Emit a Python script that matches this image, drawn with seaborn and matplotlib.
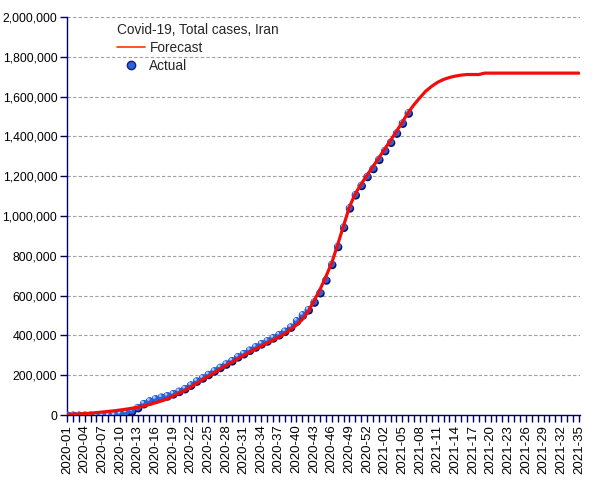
import matplotlib
matplotlib.use("Agg")
import matplotlib.pyplot as plt
import matplotlib.transforms as mtransforms
from matplotlib.lines import Line2D
from matplotlib.ticker import FuncFormatter
import pandas as pd
import seaborn as sns

# ISO weeks: 2020 has 53 weeks, chart runs to 2021-35
weeks = [f"2020-{w:02d}" for w in range(1, 54)] + [f"2021-{w:02d}" for w in range(1, 36)]

# cumulative cases at the end of each week
actual = [
    0, 0, 0, 0, 0, 0, 0, 43, 978, 6566,
    13938, 21638, 38309, 58226, 71686, 82211, 90481, 97424, 107603, 120198,
    133521, 151466, 171789, 187427, 204952, 222669, 240438, 257303, 273788, 293606,
    309437, 326712, 343203, 358905, 373570, 388810, 404648, 422140, 443086, 474000,
    504000, 530000, 569000, 616000, 680000, 758000, 848000, 945000, 1042000, 1108000,
    1155000, 1200000, 1240000, 1286000, 1330000, 1372000, 1418000, 1468000, 1519000,
]

forecast = [
    3000, 4000, 5000, 7000, 9000, 12000, 15000, 18000, 21000, 25000,
    29000, 34000, 39000, 45000, 53000, 61000, 70000, 80000, 95000, 108000,
    123000, 140000, 158000, 176000, 194000, 212000, 230000, 248000, 265000, 282000,
    299000, 315000, 331000, 346000, 361000, 376000, 391000, 408000, 430000, 452000,
    480000, 520000, 575000, 630000, 695000, 765000, 855000, 950000, 1045000, 1112000,
    1160000, 1205000, 1248000, 1292000, 1336000, 1380000, 1425000, 1472000, 1520000, 1560000,
    1595000, 1628000, 1652000, 1672000, 1686000, 1696000, 1703000, 1708000, 1711000, 1711000,
    1711000, 1718000, 1718000, 1718000, 1718000, 1718000, 1718000, 1718000, 1718000, 1718000,
    1718000, 1718000, 1718000, 1718000, 1718000, 1718000, 1718000, 1718000,
]

df_fc = pd.DataFrame({"week": range(len(forecast)), "cases": forecast})
df_act = pd.DataFrame({"week": range(len(actual)), "cases": actual})

NAVY = "#000066"

sns.set_theme(style="white")
plt.rcParams["font.family"] = ["Liberation Sans", "DejaVu Sans"]

fig = plt.figure(figsize=(6.05, 4.8), dpi=100)
ax = fig.add_axes([67 / 605, 65 / 480, 513 / 605, 398 / 480])

# "sphere" markers: dark shadow, blue body, light highlight
shadow = mtransforms.offset_copy(ax.transData, fig=fig, x=0.6, y=-0.9, units="dots")
shine = mtransforms.offset_copy(ax.transData, fig=fig, x=-1.0, y=1.3, units="dots")
sns.scatterplot(data=df_act, x="week", y="cases", ax=ax, s=36, color="#0c1260",
                edgecolor="none", transform=shadow, zorder=3, legend=False)
sns.scatterplot(data=df_act, x="week", y="cases", ax=ax, s=25, color="#2a62dc",
                edgecolor="none", zorder=4, legend=False)
sns.scatterplot(data=df_act, x="week", y="cases", ax=ax, s=4, color="#a8ccff",
                edgecolor="none", transform=shine, zorder=5, legend=False)

sns.lineplot(data=df_fc, x="week", y="cases", ax=ax, color="#f20d0d", lw=2.3,
             zorder=6, legend=False)

ax.set_xlim(0, 87.2)
ax.set_ylim(0, 2000000)
ax.set_xlabel("")
ax.set_ylabel("")

ax.set_xticks(range(len(weeks)))
ax.set_xticklabels([w if i % 3 == 0 else "" for i, w in enumerate(weeks)], rotation=90)
ax.set_yticks(range(0, 2000001, 200000))
ax.yaxis.set_major_formatter(FuncFormatter(lambda v, p: f"{int(v):,}"))

ax.yaxis.grid(True, linestyle=(0, (3, 2)), color="#a0a0a0", lw=0.8)
ax.set_axisbelow(True)

for side in ["top", "right"]:
    ax.spines[side].set_visible(False)
for side in ["left", "bottom"]:
    ax.spines[side].set_color(NAVY)
    ax.spines[side].set_linewidth(1.0)

ax.tick_params(axis="x", bottom=True, direction="out", length=5, width=1,
               color=NAVY, pad=2, labelsize=9.5, labelcolor="black")
ax.tick_params(axis="y", left=True, direction="out", length=5, width=1,
               color=NAVY, pad=2, labelsize=8.8, labelcolor="black")

handles = [
    Line2D([], [], color="#ff3300", lw=1.2),
    Line2D([], [], marker="o", ls="", markerfacecolor="#2a62dc",
           markeredgecolor="#14207a", markersize=6),
]
ax.legend(handles, ["Forecast", "Actual"], title="Covid-19, Total cases, Iran",
          loc="upper left", bbox_to_anchor=(0.097, 0.985), frameon=False,
          alignment="left", handlelength=2.1, handletextpad=0.3,
          labelspacing=0.3, borderaxespad=0, borderpad=0,
          fontsize=9.8, title_fontsize=9.8)

fig.savefig("out.png", dpi=100)
